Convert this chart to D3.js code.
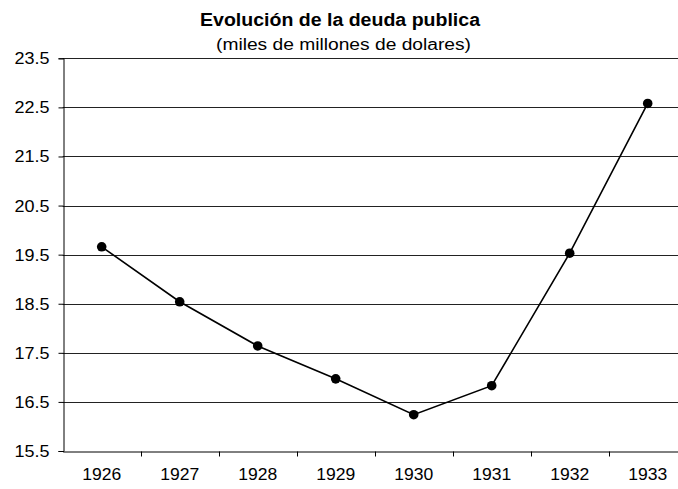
<!DOCTYPE html>
<html>
<head>
<meta charset="utf-8">
<script src="https://cdn.jsdelivr.net/npm/d3@7"></script>
<style>
  body { margin: 0; background: #fff; }
  text { font-family: "Liberation Sans", Arial, sans-serif; fill: #000; }
</style>
</head>
<body>
<div id="viz"></div>
<script>
var years = ["1926", "1927", "1928", "1929", "1930", "1931", "1932", "1933"];
var deuda = [19.66, 18.54, 17.64, 16.97, 16.24, 16.83, 19.53, 22.58];
var yTicks = [15.5, 16.5, 17.5, 18.5, 19.5, 20.5, 21.5, 22.5, 23.5];

var width = 678,
    height = 489;

// plot area runs a bit past the right edge, like the original cut
var plotLeft = 62.7, plotRight = 686.7, plotTop = 58.3, plotBottom = 451;

var svg = d3.select("#viz").append("svg")
    .attr("width", width)
    .attr("height", height);

var x = d3.scaleBand()
    .domain(years)
    .range([plotLeft, plotRight]);

var y = d3.scaleLinear()
    .domain([15.5, 23.5])
    .range([plotBottom, plotTop]);

// gridlines
svg.append("g")
    .selectAll("line")
    .data(yTicks.slice(1))
    .enter().append("line")
    .attr("x1", plotLeft)
    .attr("x2", plotRight)
    .attr("y1", function(d) { return Math.round(y(d)) + 0.5; })
    .attr("y2", function(d) { return Math.round(y(d)) + 0.5; })
    .style("stroke", "#222")
    .style("stroke-width", 1);

// y axis
var yAxis = svg.append("g")
    .attr("transform", "translate(" + (Math.round(plotLeft) + 0.5) + ",0)")
    .call(d3.axisLeft(y).tickValues(yTicks).tickFormat(d3.format(".1f")).tickSize(5).tickPadding(9));
yAxis.selectAll("text")
    .style("font-size", "17px")
    .attr("textLength", 35)
    .attr("lengthAdjust", "spacingAndGlyphs");

// x axis
var xAxis = svg.append("g")
    .attr("transform", "translate(0," + (Math.round(plotBottom) + 0.5) + ")")
    .call(d3.axisBottom(x).tickSize(0).tickPadding(16));
xAxis.selectAll("text")
    .style("font-size", "17px")
    .attr("textLength", 39)
    .attr("lengthAdjust", "spacingAndGlyphs");

// ticks between categories
xAxis.selectAll(".sep")
    .data(years.slice(1))
    .enter().append("line")
    .attr("class", "sep")
    .attr("x1", function(d) { return Math.round(x(d)) + 0.5; })
    .attr("x2", function(d) { return Math.round(x(d)) + 0.5; })
    .attr("y1", 0)
    .attr("y2", 5)
    .style("stroke", "#000");

svg.selectAll(".domain").style("stroke", "#000");
svg.selectAll(".tick line").style("stroke", "#000");

// line
var line = d3.line()
    .x(function(d, i) { return x(years[i]) + x.bandwidth() / 2; })
    .y(function(d) { return y(d); });

svg.append("path")
    .datum(deuda)
    .attr("d", line)
    .style("fill", "none")
    .style("stroke", "#000")
    .style("stroke-width", 1.6);

svg.selectAll(".dot")
    .data(deuda)
    .enter().append("circle")
    .attr("class", "dot")
    .attr("cx", function(d, i) { return x(years[i]) + x.bandwidth() / 2; })
    .attr("cy", function(d) { return y(d); })
    .attr("r", 4.8)
    .style("fill", "#000");

// titles
svg.append("text")
    .attr("x", 200)
    .attr("y", 26)
    .attr("textLength", 280)
    .attr("lengthAdjust", "spacingAndGlyphs")
    .style("font-size", "18px")
    .style("font-weight", "bold")
    .text("Evolución de la deuda publica");

svg.append("text")
    .attr("x", 216)
    .attr("y", 50)
    .attr("textLength", 255)
    .attr("lengthAdjust", "spacingAndGlyphs")
    .style("font-size", "16px")
    .text("(miles de millones de dolares)");
</script>
</body>
</html>
